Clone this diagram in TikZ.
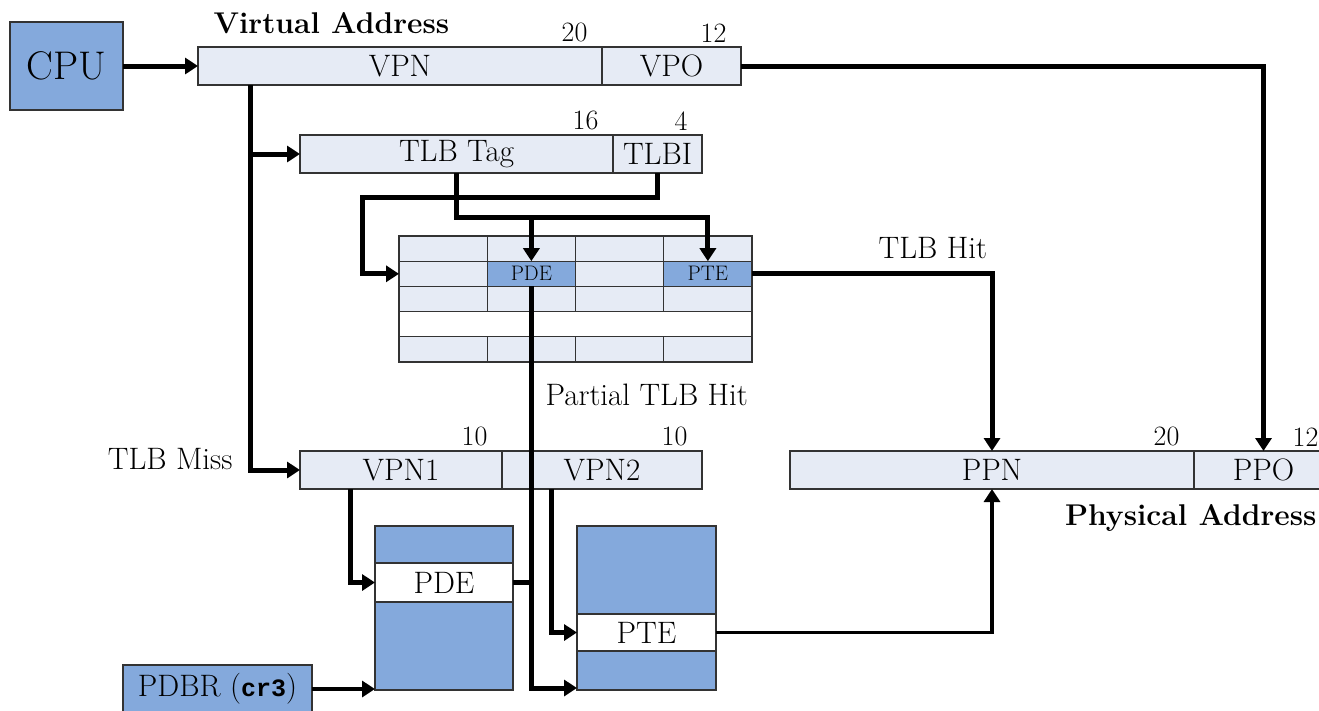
\documentclass[tikz,border=0pt]{standalone}
\usepackage{fontspec}
\usepackage{tikz}
\usetikzlibrary{
	positioning,
	calc,
	arrows.meta
}
\newfontfamily\codefont{Liberation Mono}
\tikzset{
	every picture/.style={
		x=1pt,
		y=-1pt,
		line width=1.2pt,
		draw=bc,
	},
}
\colorlet{bc}{black!80}
\definecolor{dc}{RGB}{132,169,220}
\definecolor{lc}{RGB}{230,235,245}
\newcommand{\txt}{\fontsize{31}{34}\selectfont}
\tikzstyle{field} = [
	draw=bc,
	fill=lc,
	minimum height=38pt,
	inner sep=0mm,
	outer sep=0mm,
	anchor=north west,
	font=\txt
]
\tikzstyle{cell} = [
	draw=bc,
	fill=lc,
	minimum width=88.25pt,
	minimum height=25.2pt,
	inner sep=0mm,
	outer sep=0mm,
	anchor=north west,
	font=\fontsize{21}{22}\selectfont
]
\tikzstyle{frame} = [
	draw=bc,
	fill=dc,
	minimum width=138pt,
	inner sep=0mm,
	outer sep=0mm,
	anchor=north west,
	font=\txt
]
\tikzstyle{bits} = [anchor=south east, inner sep=0mm, yshift=4pt, font=\fontsize{28}{30}\selectfont]
\tikzstyle{lbl} = [inner sep=0mm, font=\txt]
\tikzstyle{wire} = [line width=5pt, draw=black]
\tikzstyle{arr} = [wire, -{Triangle[length=13pt, width=16pt]}]

\begin{document}
\begin{tikzpicture}
	\useasboundingbox (0,0) rectangle (1319,710);

	% cpu and virtual address
	\node[frame, minimum width=113pt, minimum height=88pt, font=\fontsize{40}{42}\selectfont] (cpu) at (10,22) {CPU};
	\node[field, minimum width=404pt] (vpn) at (198,47) {VPN};
	\node[field, minimum width=139pt] (vpo) at (vpn.north east) {VPO};
	\node[lbl, anchor=base west, font=\fontsize{30}{32}\selectfont\bfseries] (va) at (213,33) {Virtual Address};

	% tlb tag / index
	\node[field, minimum width=313pt] (tag) at (300,135) {TLB Tag};
	\node[field, minimum width=89pt] (tlbi) at (tag.north east) {TLBI};

	% tlb
	\foreach \r in {1,3,5}
		\foreach \c in {1,...,4}
			\node[cell] (c\r\c) at ({399+88.25*(\c-1)}, {236+25.2*(\r-1)}) {};
	\foreach \c/\f/\t in {1/lc/{}, 2/dc/PDE, 3/lc/{}, 4/dc/PTE}
		\node[cell, fill=\f] (c2\c) at ({399+88.25*(\c-1)}, 261.2) {\t};
	\node[cell, fill=white, minimum width=353pt] (c4) at (399,311.6) {};

	% vpn1 / vpn2
	\node[field, minimum width=202pt] (vpnone) at (300,451) {VPN1};
	\node[field, minimum width=200pt] (vpntwo) at (vpnone.north east) {VPN2};
	\node[lbl, anchor=base east] (miss) at (233,469) {TLB Miss};

	% page directory and page table
	\node[frame, minimum height=37pt] (pdtop) at (375,526) {};
	\node[frame, fill=white, minimum height=39pt] (pdpde) at (pdtop.south west) {PDE};
	\node[frame, minimum height=88pt] (pdbot) at (pdpde.south west) {};
	\node[frame, minimum width=139pt, minimum height=88pt] (pttop) at (577,526) {};
	\node[frame, minimum width=139pt, fill=white, minimum height=37pt] (ptpte) at (pttop.south west) {PTE};
	\node[frame, minimum width=139pt, minimum height=39pt] (ptbot) at (ptpte.south west) {};
	\node[frame, minimum width=189pt, minimum height=48pt] (pdbr) at (123,665) {PDBR ({\codefont\fontsize{25}{28}\selectfont\bfseries cr3})};

	% physical address
	\node[field, minimum width=404pt] (ppn) at (790,451) {PPN};
	\node[field, minimum width=139pt] (ppo) at (ppn.north east) {PPO};
	\node[lbl, anchor=base east, font=\fontsize{30}{32}\selectfont\bfseries] (pa) at (1317,525) {Physical Address};

	\foreach \f/\b in {vpn/20, vpo/12, tag/16, tlbi/4, vpnone/10, vpntwo/10, ppn/20, ppo/12}
		\node[bits] (b-\f) at ([xshift=-14pt]\f.north east) {\b};

	\node[lbl, anchor=base west] (hit) at (878,258) {TLB Hit};
	\node[lbl, anchor=base west] (partial) at (545,405) {Partial TLB Hit};

	% wires
	\draw[arr] (cpu.east) -- (vpn.west);
	\draw[arr] ([xshift=52pt]vpn.south west) |- (tag.west);
	\draw[arr] ([xshift=52pt]vpn.south west) |- (vpnone.west);
	\draw[arr] (tag.south) -- ([yshift=-44pt]tag.south) -| (c22.north);
	\draw[arr] ([yshift=-44pt]tag.south) -| (c24.north);
	\draw[arr] (tlbi.south) -- ([yshift=-24pt]tlbi.south) -| ([xshift=-37pt]c21.west) -- (c21.west);
	\draw[arr] (c24.east) -| (ppn.north);
	\draw[arr] (vpo.east) -| (ppo.north);
	\draw[arr] (c22.south) |- ([yshift=2pt]ptbot.south west);
	\draw[wire] (pdpde.east) -- (pdpde.east -| c22.south);
	\draw[arr] ([xshift=50pt]vpnone.south west) |- (pdpde.west);
	\draw[arr] ([xshift=49pt]vpntwo.south west) |- (ptpte.west);
	\draw[arr, line width=3.5pt] (ptpte.east) -| (ppn.south);
	\draw[arr, line width=3.5pt] (pdbr.east) -- (pdbr.east -| pdbot.west);
\end{tikzpicture}
\end{document}
